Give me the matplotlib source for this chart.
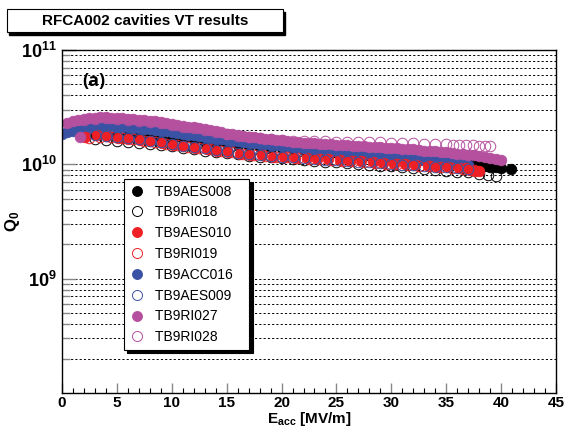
import matplotlib
matplotlib.use("Agg")
import matplotlib.pyplot as plt
from matplotlib.patches import Rectangle
from matplotlib.ticker import FixedLocator, FixedFormatter, MultipleLocator, NullFormatter
import numpy as np

plt.rcParams['font.family'] = ['Liberation Sans', 'DejaVu Sans']
plt.rcParams['mathtext.fontset'] = 'custom'
plt.rcParams['mathtext.rm'] = 'Liberation Sans'
plt.rcParams['mathtext.bf'] = 'Liberation Sans:bold'

# Q0 values below are in units of 1e10
# TB9AES008 (black, filled)
E_aes008 = [2.0, 3.0, 4.0, 5.0, 6.0, 7.0, 8.0, 9.0, 10.0, 11.0, 12.0, 13.0, 14.0, 15.0, 16.0,
            17.0, 18.0, 19.0, 20.0, 21.0, 22.0, 23.0, 24.0, 25.0, 26.0, 27.0, 28.0, 29.0, 30.0,
            31.0, 32.0, 33.0, 34.0, 35.0, 36.0, 37.0, 37.5, 38.0, 38.5, 39.0, 39.5, 40.0, 40.9]
Q_aes008 = [1.80, 1.85, 1.84, 1.82, 1.80, 1.77, 1.74, 1.71, 1.68, 1.65, 1.62, 1.58, 1.55, 1.51, 1.48,
            1.45, 1.42, 1.40, 1.38, 1.36, 1.34, 1.32, 1.30, 1.28, 1.26, 1.24, 1.22, 1.20, 1.18,
            1.16, 1.14, 1.12, 1.09, 1.06, 1.03, 1.00, 0.98, 0.97, 0.96, 0.95, 0.94, 0.93, 0.905]

# TB9RI018 (black, open)
E_ri018 = [3.0, 4.0, 5.0, 6.0, 7.0, 8.0, 9.0, 10.0, 11.0, 12.0, 13.0, 14.0, 15.0, 16.0, 17.0,
           18.0, 19.0, 20.0, 21.0, 22.0, 23.0, 24.0, 25.0, 26.0, 27.0, 28.0, 29.0, 30.0, 31.0,
           32.0, 33.0, 34.0, 35.0, 36.0, 37.0, 38.0, 38.8, 39.5]
Q_ri018 = [1.66, 1.63, 1.60, 1.57, 1.54, 1.51, 1.48, 1.44, 1.40, 1.36, 1.32, 1.28, 1.25, 1.22, 1.19,
           1.17, 1.15, 1.13, 1.11, 1.09, 1.07, 1.05, 1.04, 1.02, 1.00, 0.99, 0.97, 0.96, 0.94,
           0.93, 0.91, 0.89, 0.88, 0.86, 0.85, 0.83, 0.81, 0.79]

# TB9AES010 (red, filled)
E_aes010 = [2.1, 3.2, 4.1, 5.1, 6.0, 7.1, 8.0, 9.1, 10.1, 11.0, 12.1, 13.2, 14.1, 15.1, 16.2,
            17.1, 18.2, 19.2, 20.2, 21.2, 22.3, 23.2, 24.2, 25.3, 26.2, 27.2, 28.3, 29.2, 30.2,
            31.2, 32.2, 33.3, 34.2, 35.2, 36.2, 36.8, 37.2, 37.6, 38.0]
Q_aes010 = [1.72, 1.79, 1.76, 1.71, 1.67, 1.64, 1.59, 1.54, 1.49, 1.44, 1.40, 1.37, 1.32, 1.28, 1.24,
            1.21, 1.20, 1.17, 1.16, 1.14, 1.13, 1.12, 1.11, 1.10, 1.08, 1.06, 1.04, 1.03, 1.01,
            1.00, 0.98, 0.97, 0.95, 0.94, 0.92, 0.92, 0.90, 0.88, 0.87]

# TB9RI019 (red, open)
E_ri019 = [2.5, 3.5, 4.5, 5.5, 6.5, 7.5, 8.5, 9.5, 10.5, 11.5, 12.5, 13.5, 14.5, 15.5, 16.5,
           17.5, 18.5, 19.5, 20.5, 21.5, 22.5, 23.5, 24.5, 25.5, 26.5, 27.5, 28.5, 29.5, 30.5,
           31.5, 32.5, 33.5, 34.5, 35.5, 36.5, 37.5]
Q_ri019 = [1.70, 1.75, 1.72, 1.69, 1.65, 1.61, 1.57, 1.52, 1.47, 1.43, 1.39, 1.35, 1.31, 1.27, 1.24,
           1.21, 1.19, 1.17, 1.15, 1.14, 1.12, 1.11, 1.10, 1.08, 1.07, 1.05, 1.03, 1.01, 1.00,
           0.99, 0.97, 0.96, 0.94, 0.93, 0.91, 0.89]

# TB9ACC016 (blue, filled)
E_acc016 = [0.0, 0.5, 1.0, 1.5, 2.0, 2.5, 3.0, 3.5, 4.0, 4.5, 5.0, 5.5, 6.0, 6.5, 7.0, 7.5,
            8.0, 8.5, 9.0, 9.5, 10.0, 10.5, 11.0, 11.5, 12.0, 12.5, 13.0, 13.5, 14.0, 14.5,
            15.0, 15.5, 16.0, 16.5, 17.0, 17.5, 18.0, 18.5, 19.0, 19.5, 20.0, 20.5, 21.0, 21.5,
            22.0, 22.5, 23.0, 23.5, 24.0, 24.5, 25.0, 25.5, 26.0, 26.5, 27.0, 27.5, 28.0, 28.5,
            29.0, 29.5, 30.0, 30.5, 31.0, 31.5, 32.0, 32.5, 33.0, 33.5, 34.0, 34.5, 35.0, 35.5,
            36.0, 36.5, 37.0]
Q_acc016 = [1.86, 1.91, 1.96, 2.01, 2.05, 2.09, 2.12, 2.14, 2.15, 2.15, 2.14, 2.13, 2.11, 2.09, 2.07, 2.05,
            2.03, 2.00, 1.97, 1.94, 1.91, 1.88, 1.85, 1.82, 1.79, 1.76, 1.73, 1.70, 1.68, 1.65,
            1.63, 1.61, 1.59, 1.57, 1.55, 1.53, 1.51, 1.50, 1.48, 1.47, 1.45, 1.44, 1.42, 1.41,
            1.39, 1.38, 1.37, 1.35, 1.34, 1.33, 1.31, 1.30, 1.29, 1.27, 1.26, 1.25, 1.23, 1.22,
            1.21, 1.19, 1.18, 1.17, 1.15, 1.14, 1.13, 1.11, 1.10, 1.09, 1.07, 1.06, 1.05, 1.03,
            1.02, 1.01, 0.99]

# TB9AES009 (blue, open)
E_aes009 = [3.0, 4.0, 5.0, 6.0, 7.0, 8.0, 9.0, 10.0, 11.0, 12.0, 13.0, 14.0, 15.0, 16.0, 17.0,
            18.0, 19.0, 20.0, 21.0, 22.0, 23.0, 24.0, 25.0, 26.0, 27.0, 28.0, 29.0, 30.0, 31.0,
            32.0, 33.0, 34.0, 35.0, 36.0, 37.0]
Q_aes009 = [1.80, 1.77, 1.73, 1.69, 1.65, 1.61, 1.56, 1.51, 1.46, 1.42, 1.38, 1.34, 1.30, 1.26, 1.23,
            1.21, 1.19, 1.17, 1.15, 1.14, 1.12, 1.10, 1.09, 1.07, 1.05, 1.04, 1.02, 1.01, 0.99,
            0.98, 0.96, 0.95, 0.94, 0.92, 0.91]

# TB9RI027 (magenta, filled)
E_ri027 = [0.5, 1.0, 1.5, 1.6, 2.0, 2.5, 3.0, 3.5, 4.0, 4.5, 5.0, 5.5, 6.0, 6.5, 7.0, 7.5,
           8.0, 8.5, 9.0, 9.5, 10.0, 10.5, 11.0, 11.5, 12.0, 12.5, 13.0, 13.5, 14.0, 14.5,
           15.0, 15.5, 16.0, 16.5, 17.0, 17.5, 18.0, 18.5, 19.0, 19.5, 20.0, 20.5, 21.0, 21.5,
           22.0, 22.5, 23.0, 23.5, 24.0, 24.5, 25.0, 25.5, 26.0, 26.5, 27.0, 27.5, 28.0, 28.5,
           29.0, 29.5, 30.0, 30.5, 31.0, 31.5, 32.0, 32.5, 33.0, 33.5, 34.0, 34.5, 35.0, 35.5,
           36.0, 36.5, 37.0, 37.5, 38.0, 38.5, 39.0, 39.5, 40.0]
Q_ri027 = [2.30, 2.38, 2.44, 1.72, 2.49, 2.53, 2.56, 2.57, 2.57, 2.56, 2.55, 2.53, 2.51, 2.49, 2.46, 2.43,
           2.40, 2.37, 2.34, 2.30, 2.26, 2.22, 2.18, 2.14, 2.10, 2.06, 2.02, 1.98, 1.94, 1.90,
           1.86, 1.83, 1.80, 1.77, 1.74, 1.72, 1.70, 1.68, 1.66, 1.64, 1.62, 1.60, 1.58, 1.57,
           1.55, 1.54, 1.53, 1.52, 1.51, 1.50, 1.49, 1.48, 1.47, 1.46, 1.45, 1.44, 1.43, 1.42,
           1.41, 1.40, 1.39, 1.38, 1.37, 1.36, 1.35, 1.33, 1.32, 1.31, 1.30, 1.28, 1.27, 1.26,
           1.24, 1.23, 1.21, 1.20, 1.18, 1.16, 1.14, 1.12, 1.10]

# TB9RI028 (magenta, open)
E_ri028 = [2.0, 3.0, 4.0, 5.0, 6.0, 7.0, 8.0, 9.0, 10.0, 11.0, 12.0, 13.0, 14.0, 15.0, 16.0,
           17.0, 18.0, 19.0, 20.0, 21.0, 22.0, 23.0, 24.0, 25.0, 26.0, 27.0, 28.0, 29.0, 30.0,
           31.0, 32.0, 33.0, 34.0, 35.0, 35.6, 36.2, 36.8, 37.4, 38.0, 38.5, 39.0]
Q_ri028 = [2.42, 2.50, 2.52, 2.50, 2.46, 2.40, 2.34, 2.28, 2.21, 2.14, 2.06, 1.98, 1.91, 1.84, 1.78,
           1.73, 1.69, 1.66, 1.63, 1.61, 1.60, 1.59, 1.59, 1.58, 1.58, 1.57, 1.57, 1.56, 1.55,
           1.54, 1.53, 1.52, 1.51, 1.50, 1.49, 1.48, 1.47, 1.47, 1.46, 1.45, 1.45]

c_black = 'black'
c_red = '#ee2026'
c_blue = '#3a52a3'
c_mag = '#b5509f'

fig = plt.figure(figsize=(5.64, 4.30), dpi=100)
ax = fig.add_axes([62/564, 1 - 393/430, (556 - 62)/564, (393 - 50)/430])

ms = 7.6
def dots(E, Q, color, filled, label, size=ms):
    Q = np.array(Q) * 1e10
    if filled:
        ax.plot(E, Q, 'o', color=color, ms=size, mec=color, mew=0.6, ls='none', label=label)
    else:
        ax.plot(E, Q, 'o', mfc='none', mec=color, ms=size, mew=0.7, ls='none', label=label)

# drawing order (which ends on top), legend order handled later
dots(E_aes008, Q_aes008, c_black, True, 'TB9AES008')
dots(E_ri018, Q_ri018, c_black, False, 'TB9RI018')
dots(E_acc016, Q_acc016, c_blue, True, 'TB9ACC016')
dots(E_aes010, Q_aes010, c_red, True, 'TB9AES010')
dots(E_ri019, Q_ri019, c_red, False, 'TB9RI019')
dots(E_aes009, Q_aes009, c_blue, False, 'TB9AES009')
dots(E_ri027, Q_ri027, c_mag, True, 'TB9RI027')
dots(E_ri028, Q_ri028, c_mag, False, 'TB9RI028')

ax.set_yscale('log')
ax.set_xlim(0, 45)
ax.set_ylim(1e8, 1e11)

ax.yaxis.set_major_locator(FixedLocator([1e9, 1e10, 1e11]))
ax.yaxis.set_major_formatter(FixedFormatter([r'$\mathbf{10^{9}}$', r'$\mathbf{10^{10}}$', r'$\mathbf{10^{11}}$']))
minors = [m * 10.0**d for d in (8, 9, 10) for m in range(2, 10)]
ax.yaxis.set_minor_locator(FixedLocator(minors))
ax.yaxis.set_minor_formatter(NullFormatter())
ax.xaxis.set_major_locator(MultipleLocator(5))
ax.xaxis.set_minor_locator(MultipleLocator(1))

ax.grid(True, axis='y', which='both', color='black', linestyle=(0, (2.2, 2.2)), linewidth=0.7)
ax.tick_params(axis='both', which='both', direction='in', top=False, right=False)
ax.tick_params(axis='x', which='major', length=7, width=1, color='#888888', labelsize=11, pad=2)
ax.tick_params(axis='x', which='minor', length=3.5, width=0.8, color='black')
ax.tick_params(axis='y', which='major', length=10, width=1, color='#888888', labelsize=13, pad=4)
ax.tick_params(axis='y', which='minor', length=6, width=1, color='#888888')
for lab in ax.get_xticklabels():
    lab.set_fontweight('bold')
for sp in ax.spines.values():
    sp.set_linewidth(1.0)

ax.set_xlabel(r'$\mathbf{E_{acc}}$ [MV/m]', fontsize=11, fontweight='bold', labelpad=0)
ax.set_ylabel(r'$\mathbf{Q_{0}}$', fontsize=12)
ax.yaxis.set_label_coords(-0.08, 0.5)

ax.text(0.042, 0.935, '(a)', transform=ax.transAxes, fontsize=13, fontweight='bold',
        family='Open Sans', va='top', ha='left')

# legend in the same order as the reference (trailing spaces widen the box a bit)
h, l = ax.get_legend_handles_labels()
order = ['TB9AES008', 'TB9RI018', 'TB9AES010', 'TB9RI019', 'TB9ACC016', 'TB9AES009', 'TB9RI027', 'TB9RI028']
hd = dict(zip(l, h))
leg = ax.legend([hd[k] for k in order], [k + '   ' for k in order], loc='upper left',
                bbox_to_anchor=(124/564, 1 - 179/430), bbox_transform=fig.transFigure,
                fontsize=10, frameon=True, fancybox=False, edgecolor='black', framealpha=1,
                borderaxespad=0, borderpad=0.4, labelspacing=0.49, handlelength=1.0,
                handletextpad=0.8, markerscale=0.95,
                shadow={'ox': 2.5, 'oy': -2.5, 'facecolor': 'black', 'edgecolor': 'black', 'alpha': 1})
leg.get_frame().set_linewidth(0.8)

# title box with shadow, top-left
fig.patches.append(Rectangle((9/564, 1 - 35/430), 276/564, 23/430, transform=fig.transFigure,
                             facecolor='black', edgecolor='black', zorder=1))
fig.patches.append(Rectangle((7/564, 1 - 32/430), 276/564, 23/430, transform=fig.transFigure,
                             facecolor='white', edgecolor='black', linewidth=0.8, zorder=2))
fig.text(145/564, 1 - 21/430, 'RFCA002 cavities VT results', ha='center', va='center',
         fontsize=11, fontweight='bold', zorder=3)

fig.savefig('out.png', dpi=100)
